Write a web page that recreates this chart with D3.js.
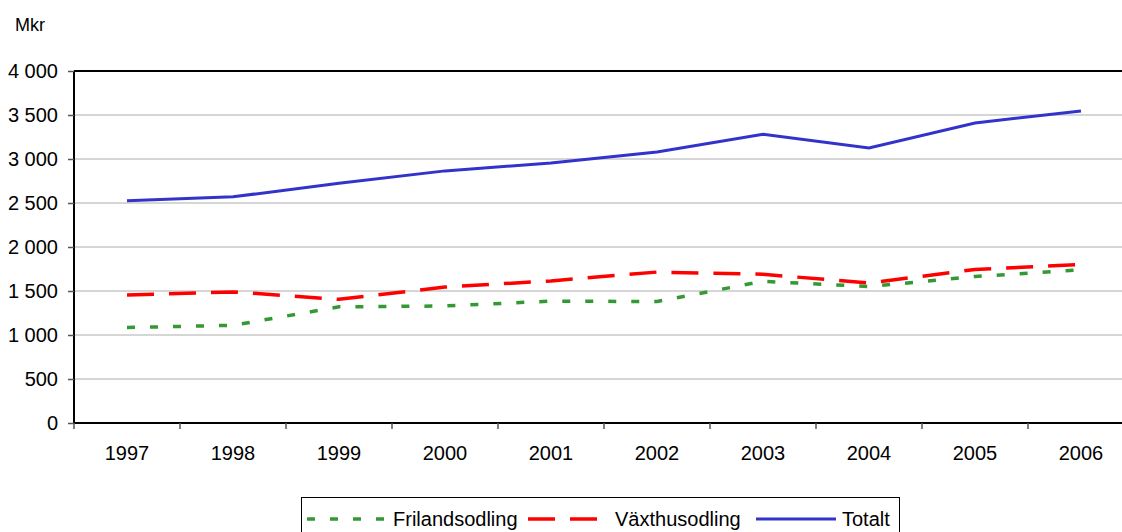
<!DOCTYPE html>
<html>
<head>
<meta charset="utf-8">
<script src="https://cdnjs.cloudflare.com/ajax/libs/d3/7.8.5/d3.min.js"></script>
<style>
  html, body { margin: 0; padding: 0; background: #fff; }
  svg { display: block; font-family: "Liberation Sans", Arial, sans-serif; }
</style>
</head>
<body>
<svg class="lineChart"></svg>
<script>
// data (Mkr)
var years = ["1997", "1998", "1999", "2000", "2001", "2002", "2003", "2004", "2005", "2006"];
var frilandsodling = [1085, 1110, 1320, 1330, 1385, 1380, 1610, 1550, 1665, 1740];
var vaxthusodling = [1455, 1490, 1405, 1545, 1615, 1715, 1690, 1590, 1745, 1800];
var totalt = [2525, 2570, 2725, 2865, 2955, 3080, 3280, 3125, 3410, 3545];
var yTicks = [0, 500, 1000, 1500, 2000, 2500, 3000, 3500, 4000];

var W = 1122, H = 532;
var margin = { top: 71, left: 74 };
var plotW = 1060;   // runs past the right edge, like the original
var plotH = 352;

var series = [
    { name: "Frilandsodling", values: frilandsodling, color: "#339933", dash: "8,15", width: 3.5 },
    { name: "Växthusodling", values: vaxthusodling, color: "#ff0000", dash: "27,15", width: 3.5 },
    { name: "Totalt", values: totalt, color: "#3333cc", dash: null, width: 3 }
];

var svg = d3.select(".lineChart")
    .attr("width", W)
    .attr("height", H);

var x = d3.scaleBand()
    .domain(years)
    .range([0, plotW]);
var y = d3.scaleLinear()
    .domain([0, 4000])
    .range([plotH, 0]);

var fmt = function (d) { return d3.format(",")(d).replace(/,/g, " "); };

svg.append("text")
    .attr("x", 15)
    .attr("y", 31)
    .attr("font-size", 18)
    .attr("fill", "#000")
    .text("Mkr");

var chart = svg.append("g")
    .attr("transform", "translate(" + margin.left + "," + margin.top + ")");

// grid lines
chart.selectAll(".grid")
    .data(yTicks.filter(function (d) { return d > 0 && d < 4000; }))
    .enter().append("line")
    .attr("class", "grid")
    .attr("x1", 0)
    .attr("x2", plotW)
    .attr("y1", function (d) { return y(d); })
    .attr("y2", function (d) { return y(d); })
    .attr("stroke", "#c8c8c8")
    .attr("stroke-width", 1.5);

// top border
chart.append("line")
    .attr("x1", 0).attr("x2", plotW)
    .attr("y1", 0).attr("y2", 0)
    .attr("stroke", "#000")
    .attr("stroke-width", 2);

// y axis
var yAxis = d3.axisLeft(y)
    .tickValues(yTicks)
    .tickFormat(fmt)
    .tickSize(6)
    .tickPadding(10);
var gy = chart.append("g").call(yAxis);
gy.select(".domain").attr("stroke", "#000").attr("stroke-width", 2).attr("d", "M0,0V" + plotH);
gy.selectAll(".tick line").attr("stroke", "#555").attr("stroke-width", 1.5);
gy.selectAll("text").attr("font-size", 20).attr("fill", "#000")
    .attr("font-family", "Liberation Sans, Arial, sans-serif");

// x axis, ticks between categories
var edges = years.map(function (d) { return x(d); }).concat([plotW]);
var gx = chart.append("g").attr("transform", "translate(0," + plotH + ")");
gx.append("line")
    .attr("x1", 0).attr("x2", plotW)
    .attr("stroke", "#000").attr("stroke-width", 2);
gx.selectAll(".xtick")
    .data(edges)
    .enter().append("line")
    .attr("class", "xtick")
    .attr("x1", function (d) { return d; })
    .attr("x2", function (d) { return d; })
    .attr("y1", 0).attr("y2", 6)
    .attr("stroke", "#555").attr("stroke-width", 1.5);
gx.selectAll(".xlabel")
    .data(years)
    .enter().append("text")
    .attr("class", "xlabel")
    .attr("x", function (d) { return x(d) + x.bandwidth() / 2; })
    .attr("y", 37)
    .attr("text-anchor", "middle")
    .attr("font-size", 20)
    .attr("fill", "#000")
    .text(function (d) { return d; });

// lines
var line = d3.line()
    .x(function (d, i) { return x(years[i]) + x.bandwidth() / 2; })
    .y(function (d) { return y(d); });

chart.selectAll(".series")
    .data(series)
    .enter().append("path")
    .attr("class", "series")
    .attr("d", function (s) { return line(s.values); })
    .attr("fill", "none")
    .attr("stroke", function (s) { return s.color; })
    .attr("stroke-width", function (s) { return s.width; })
    .attr("stroke-dasharray", function (s) { return s.dash; });

// legend
var legend = svg.append("g");
legend.append("rect")
    .attr("x", 301.5).attr("y", 497.5)
    .attr("width", 598).attr("height", 50)
    .attr("fill", "#fff")
    .attr("stroke", "#000").attr("stroke-width", 1);

var legendItems = [
    { x1: 307, x2: 386, tx: 393 },
    { x1: 528, x2: 600, tx: 615 },
    { x1: 756, x2: 836, tx: 842 }
];
legendItems.forEach(function (p, i) {
    var s = series[i];
    legend.append("line")
        .attr("x1", p.x1).attr("x2", p.x2)
        .attr("y1", 519).attr("y2", 519)
        .attr("stroke", s.color)
        .attr("stroke-width", s.width)
        .attr("stroke-dasharray", s.dash);
    legend.append("text")
        .attr("x", p.tx)
        .attr("y", 526)
        .attr("font-size", 20)
        .attr("fill", "#000")
        .text(s.name);
});
</script>
</body>
</html>
